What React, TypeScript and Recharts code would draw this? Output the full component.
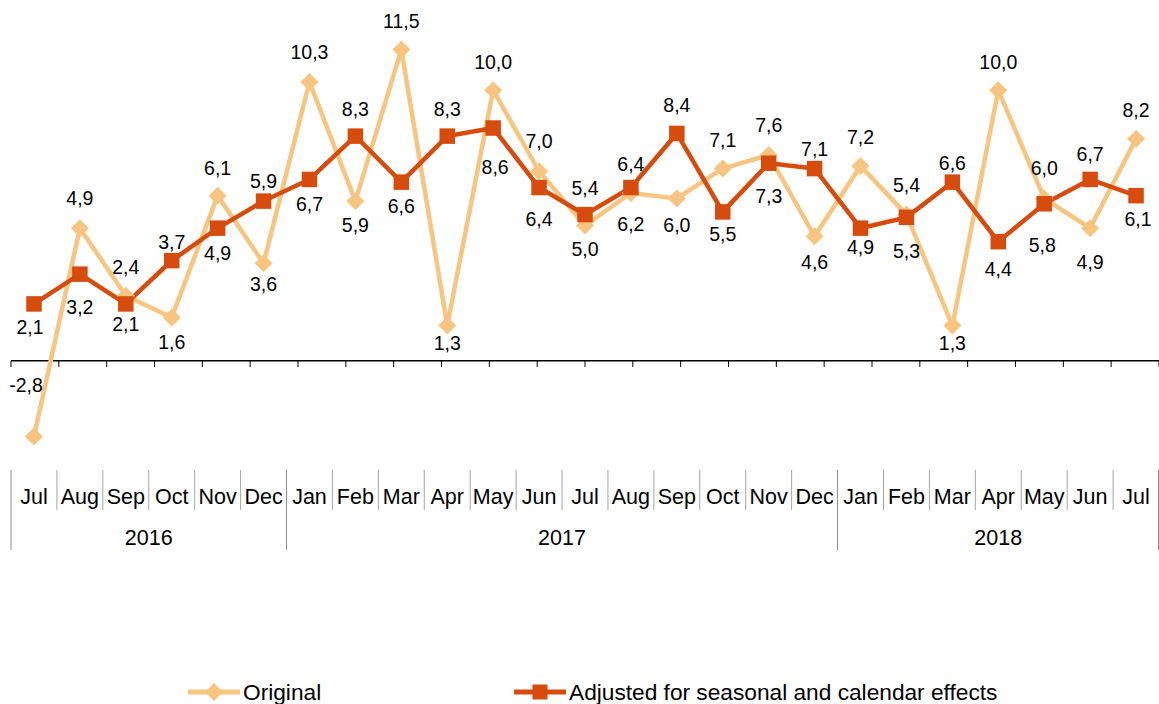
import React from 'react';
import { LineChart, Line, XAxis, YAxis, ReferenceLine, LabelList } from 'recharts';

// ---------- data ----------
const categories = [
  'Jul 2016', 'Aug 2016', 'Sep 2016', 'Oct 2016', 'Nov 2016', 'Dec 2016',
  'Jan 2017', 'Feb 2017', 'Mar 2017', 'Apr 2017', 'May 2017', 'Jun 2017',
  'Jul 2017', 'Aug 2017', 'Sep 2017', 'Oct 2017', 'Nov 2017', 'Dec 2017',
  'Jan 2018', 'Feb 2018', 'Mar 2018', 'Apr 2018', 'May 2018', 'Jun 2018', 'Jul 2018',
];
const originalValues = [
  -2.8, 4.9, 2.4, 1.6, 6.1, 3.6, 10.3, 5.9, 11.5, 1.3, 10.0, 7.0,
  5.0, 6.2, 6.0, 7.1, 7.6, 4.6, 7.2, 5.4, 1.3, 10.0, 6.0, 4.9, 8.2,
];
const adjustedValues = [
  2.1, 3.2, 2.1, 3.7, 4.9, 5.9, 6.7, 8.3, 6.6, 8.3, 8.6, 6.4,
  5.4, 6.4, 8.4, 5.5, 7.3, 7.1, 4.9, 5.3, 6.6, 4.4, 5.8, 6.7, 6.1,
];
const yearLabels = ['2016', '2017', '2018'];
const yearMonthCounts = [6, 12, 7];
const seriesNames = ['Original', 'Adjusted for seasonal and calendar effects'];
const yDomain = [-4, 12];

// ---------- style: label offsets (px, relative to point) ----------
const originalLabelDy = [-52, -30, -29, 25, -28, 21, -30, 24, -29, 17, -28, -30, 24, 31, 27, -29, -30, 26, -29, -30, 17, -28, -30, 34, -29];
const originalLabelDx = [-8, 0, 0, 0, 0, 0, 0, 0, 0, 0, 0, 0, 0, 0, 0, 0, 0, 0, 0, 0, 0, 0, 0, 0, 0];
const adjustedLabelDy = [23, 33, 20, -19, 25, -20, 25, -27, 24, -27, 39, 31, -27, -24, -28, 22, 33, -20, 19, 34, -19, 27, 41, -25, 23];
const adjustedLabelDx = [-4, 0, 0, 0, 0, 0, 0, 0, 0, 0, 2, 0, 0, 0, 0, 0, 0, 0, 0, 0, 0, 0, -2, 0, 2];

const data = categories.map((c, i) => ({
  period: c,
  original: originalValues[i],
  adjusted: adjustedValues[i],
}));
const boundaries = Array.from({ length: categories.length + 1 }, (_, i) => i);

// ---------- geometry / style ----------
const W = 1159;
const H = 704;
const PLOT_LEFT = 11;
const PLOT_TOP = 36;
const PLOT_BOTTOM = 469;
const XAXIS_H = 90;
const PLOT_W = W - PLOT_LEFT;
const BAND = PLOT_W / categories.length;
const FONT = '"Liberation Sans", Arial, Helvetica, sans-serif';
const ORIG_COLOR = '#F7C580';
const ADJ_COLOR = '#D74B0D';

const fmt = (v: number) => v.toFixed(1).replace('.', ',');

const yearStarts: number[] = [];
{
  let s = 0;
  for (const n of yearMonthCounts) {
    yearStarts.push(s);
    s += n;
  }
}

const MonthTick = (props: any) => {
  const { x, y, index, payload } = props;
  const bw = BAND;
  const month = String(payload.value).split(' ')[0];
  const yIdx = yearStarts.indexOf(index);
  const isYearStart = yIdx >= 0;
  const isLast = index === categories.length - 1;
  return (
    <g>
      <line
        x1={x - bw / 2}
        x2={x - bw / 2}
        y1={y + 1}
        y2={isYearStart ? y + 81 : y + 41}
        stroke={isYearStart ? '#8c8c8c' : '#a6a6a6'}
        strokeWidth={1}
      />
      {isLast && (
        <line x1={x + bw / 2 - 0.5} x2={x + bw / 2 - 0.5} y1={y + 1} y2={y + 81} stroke="#8c8c8c" strokeWidth={1} />
      )}
      <text x={x} y={y + 28} textAnchor="middle" dominantBaseline="central" fontSize={21.5} fill="#000" fontFamily={FONT}>
        {month}
      </text>
      {isYearStart && (
        <text
          x={x + ((yearMonthCounts[yIdx] - 1) / 2) * bw}
          y={y + 69}
          textAnchor="middle"
          dominantBaseline="central"
          fontSize={21.5}
          fill="#000"
          fontFamily={FONT}
        >
          {yearLabels[yIdx]}
        </text>
      )}
    </g>
  );
};

const Diamond = (p: any) => {
  const { cx, cy, index } = p;
  if (cx == null || cy == null) return <g key={`od${index}`} />;
  const r = 9;
  return (
    <polygon
      key={`od${index}`}
      points={`${cx},${cy - r} ${cx + r},${cy} ${cx},${cy + r} ${cx - r},${cy}`}
      fill={ORIG_COLOR}
    />
  );
};

const Square = (p: any) => {
  const { cx, cy, index } = p;
  if (cx == null || cy == null) return <g key={`as${index}`} />;
  const s = 15.5;
  return <rect key={`as${index}`} x={cx - s / 2} y={cy - s / 2} width={s} height={s} fill={ADJ_COLOR} />;
};

const makeLabel = (dxs: number[], dys: number[]) => (p: any) => {
  const { x, y, value, index } = p;
  return (
    <text
      key={`l${index}`}
      x={x + (dxs[index] || 0)}
      y={y + (dys[index] || 0)}
      textAnchor="middle"
      dominantBaseline="central"
      fontSize={19.5}
      fill="#000"
      fontFamily={FONT}
    >
      {fmt(Number(value))}
    </text>
  );
};

const LegendItem = ({ color, marker, label, left }: { color: string; marker: 'diamond' | 'square'; label: string; left: number }) => (
  <div style={{ position: 'absolute', left, top: 679, height: 26, display: 'flex', alignItems: 'center' }}>
    <svg width={54} height={26} style={{ display: 'block' }}>
      <line x1={0} x2={52} y1={13} y2={13} stroke={color} strokeWidth={5} />
      {marker === 'diamond' ? (
        <polygon points="26,4 35,13 26,22 17,13" fill={color} />
      ) : (
        <rect x={18.5} y={5.5} width={15} height={15} fill={color} />
      )}
    </svg>
    <span style={{ fontFamily: FONT, fontSize: 22.7, color: '#000', marginLeft: 1, whiteSpace: 'nowrap' }}>
      {label}
    </span>
  </div>
);

export default function App() {
  return (
    <div style={{ position: 'absolute', left: 0, top: 0, width: W, height: H, overflow: 'hidden', background: '#fff' }}>
      <LineChart
        width={W}
        height={H}
        data={data}
        margin={{ top: PLOT_TOP, right: 0, left: PLOT_LEFT, bottom: H - PLOT_BOTTOM - XAXIS_H }}
      >
        <XAxis
          dataKey="period"
          interval={0}
          axisLine={false}
          tickLine={false}
          tickSize={0}
          tickMargin={0}
          height={XAXIS_H}
          padding={{ left: BAND / 2, right: BAND / 2 }}
          tick={<MonthTick />}
        />
        <XAxis xAxisId="grid" type="number" domain={[0, categories.length]} hide />
        <YAxis domain={yDomain} hide />
        <ReferenceLine y={0} stroke="#000" strokeWidth={1.3} />
        {boundaries.map((b) => (
          <ReferenceLine
            key={`b${b}`}
            xAxisId="grid"
            segment={[{ x: b, y: 0 }, { x: b, y: -0.23 }]}
            stroke="#000"
            strokeWidth={1}
          />
        ))}
        <Line
          type="linear"
          dataKey="original"
          name={seriesNames[0]}
          stroke={ORIG_COLOR}
          strokeWidth={4.5}
          dot={Diamond}
          activeDot={false}
          isAnimationActive={false}
        >
          <LabelList dataKey="original" content={makeLabel(originalLabelDx, originalLabelDy)} />
        </Line>
        <Line
          type="linear"
          dataKey="adjusted"
          name={seriesNames[1]}
          stroke={ADJ_COLOR}
          strokeWidth={4.5}
          dot={Square}
          activeDot={false}
          isAnimationActive={false}
        >
          <LabelList dataKey="adjusted" content={makeLabel(adjustedLabelDx, adjustedLabelDy)} />
        </Line>
      </LineChart>
      <LegendItem color={ORIG_COLOR} marker="diamond" label={seriesNames[0]} left={188} />
      <LegendItem color={ADJ_COLOR} marker="square" label={seriesNames[1]} left={514} />
    </div>
  );
}
